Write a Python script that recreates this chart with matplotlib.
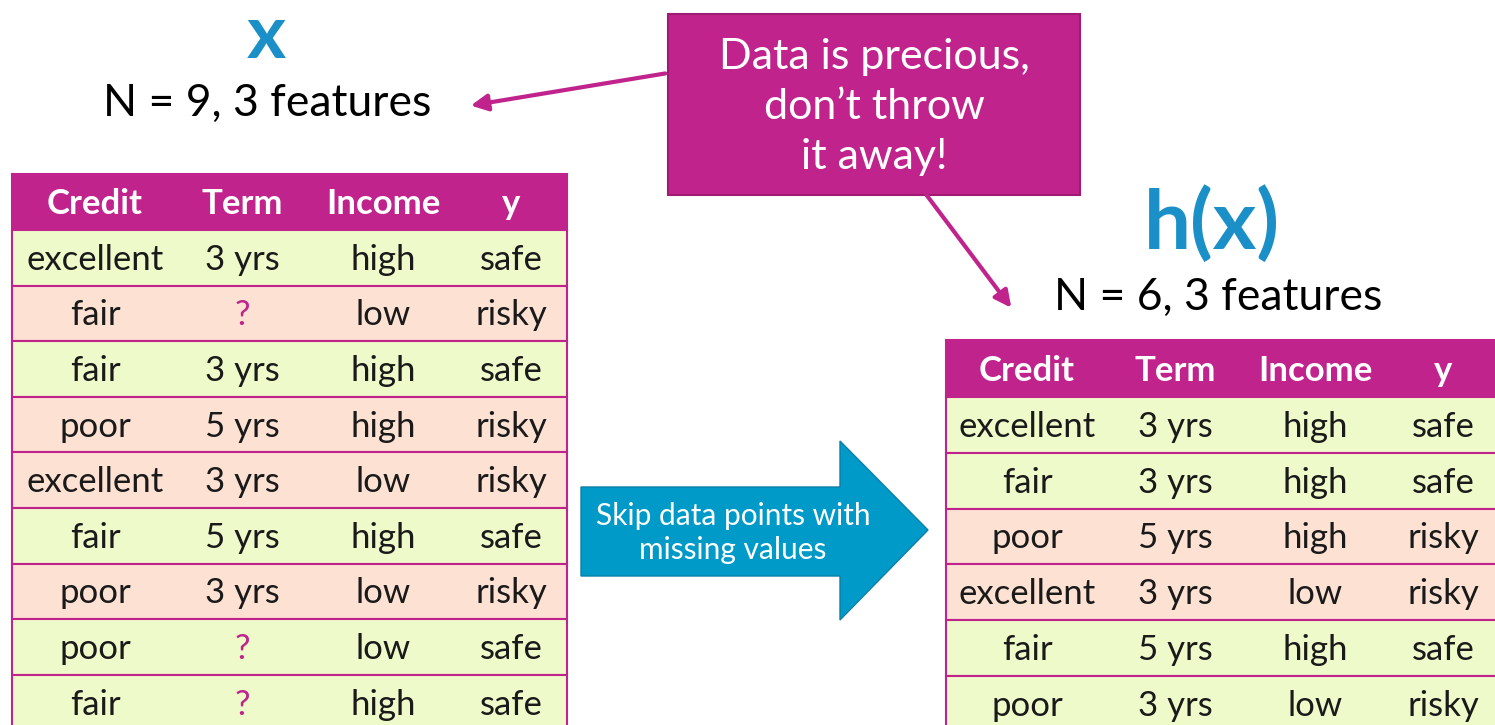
import matplotlib.pyplot as plt
from matplotlib.patches import Rectangle, Polygon

plt.rcParams['font.family'] = ['Lato', 'DejaVu Sans']

header = ['Credit', 'Term', 'Income', 'y']

full_rows = [
    ['excellent', '3 yrs', 'high', 'safe'],
    ['fair', '?', 'low', 'risky'],
    ['fair', '3 yrs', 'high', 'safe'],
    ['poor', '5 yrs', 'high', 'risky'],
    ['excellent', '3 yrs', 'low', 'risky'],
    ['fair', '5 yrs', 'high', 'safe'],
    ['poor', '3 yrs', 'low', 'risky'],
    ['poor', '?', 'low', 'safe'],
    ['fair', '?', 'high', 'safe'],
]
full_shade = ['g', 'p', 'g', 'p', 'p', 'g', 'p', 'g', 'g']

kept_rows = [
    ['excellent', '3 yrs', 'high', 'safe'],
    ['fair', '3 yrs', 'high', 'safe'],
    ['poor', '5 yrs', 'high', 'risky'],
    ['excellent', '3 yrs', 'low', 'risky'],
    ['fair', '5 yrs', 'high', 'safe'],
    ['poor', '3 yrs', 'low', 'risky'],
]
kept_shade = ['g', 'g', 'p', 'p', 'g', 'g']

MAG = '#c0248c'
BLUE = '#1a8fc8'
ARROW_BLUE = '#009ac9'
shade_col = {'g': '#eefaca', 'p': '#fde2d4'}

fig = plt.figure(figsize=(14.95, 7.25), dpi=100)
ax = fig.add_axes([0, 0, 1, 1])
ax.set_xlim(0, 1495)
ax.set_ylim(725, 0)
ax.axis('off')


def draw_table(x0, x1, y0, head_h, row_h, col_x, rows, shades):
    ax.add_patch(Rectangle((x0, y0), x1 - x0, head_h, facecolor=MAG,
                           edgecolor=MAG, lw=1.5))
    for cx, h in zip(col_x, header):
        ax.text(cx, y0 + head_h / 2 + 2, h, color='white', fontsize=25,
                fontweight='bold', ha='center', va='center')
    y = y0 + head_h
    for r, s in zip(rows, shades):
        ax.add_patch(Rectangle((x0, y), x1 - x0, row_h, facecolor=shade_col[s],
                               edgecolor=MAG, lw=1.5))
        for cx, v in zip(col_x, r):
            c = MAG if v == '?' else '#1a1a1a'
            ax.text(cx, y + row_h / 2 + 2, v, color=c, fontsize=25,
                    ha='center', va='center')
        y += row_h


draw_table(12, 567, 174, 56, 55.6, [95, 242, 383, 511], full_rows, full_shade)
draw_table(946, 1500, 340, 57, 55.8, [1027, 1175, 1315, 1443], kept_rows, kept_shade)

# titles
ax.text(266, 36, 'x', color=BLUE, fontsize=54, fontweight='bold',
        ha='center', va='center')
ax.text(267, 103, 'N = 9, 3 features', color='black', fontsize=32,
        ha='center', va='center')
ax.text(1212, 224, 'h(x)', color=BLUE, fontsize=60, fontweight='bold',
        ha='center', va='center')
ax.text(1218, 297, 'N = 6, 3 features', color='black', fontsize=32,
        ha='center', va='center')

# callout
ax.annotate('', xy=(468, 106), xytext=(668, 73),
            arrowprops=dict(arrowstyle='-|>', color=MAG, lw=3,
                            mutation_scale=25))
ax.annotate('', xy=(1013, 310), xytext=(925, 193),
            arrowprops=dict(arrowstyle='-|>', color=MAG, lw=3,
                            mutation_scale=25))
ax.add_patch(Rectangle((668, 14), 412, 181, facecolor=MAG,
                       edgecolor='#a01c74', lw=1.5))
ax.text(874, 107, 'Data is precious,\ndon\u2019t throw\nit away!', color='white',
        fontsize=31, ha='center', va='center', linespacing=1.4)

# big arrow
ax.add_patch(Polygon([(581, 487), (840, 487), (840, 441), (928, 530),
                      (840, 620), (840, 576), (581, 576)],
                     closed=True, facecolor=ARROW_BLUE, edgecolor='#0a7fa8', lw=1))
ax.text(733, 533, 'Skip data points with\nmissing values', color='white',
        fontsize=21.5, ha='center', va='center', linespacing=1.25)

fig.savefig('out.png', dpi=100)
